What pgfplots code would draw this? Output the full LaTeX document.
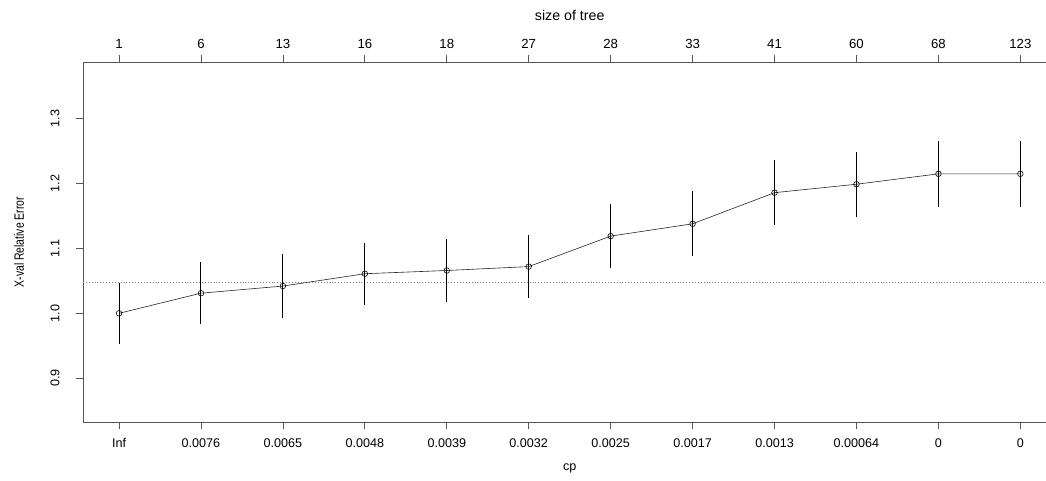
\documentclass[border=0pt]{standalone}
\usepackage{fontspec}
\setmainfont{Liberation Sans}
\usepackage{graphicx}
\usepackage{pgfplots}
\usepackage{pgfplotstable}
\pgfplotsset{compat=1.18}
\pgfplotstableread{
x y err
0 1.000 0.047
1 1.031 0.048
2 1.042 0.049
3 1.061 0.048
4 1.066 0.048
5 1.072 0.048
6 1.119 0.049
7 1.138 0.050
8 1.186 0.050
9 1.199 0.050
10 1.215 0.051
11 1.215 0.051
}\cvdata
\definecolor{axgray}{RGB}{85,85,85}
\begin{document}
\begin{tikzpicture}
\begin{axis}[
  at={(0pt,0pt)}, anchor=south west,
  scale only axis, width=973.4pt, height=359.7pt,
  xmin=-0.44, xmax=11.44, ymin=0.8324, ymax=1.387,
  axis line style={axgray, line width=0.8pt},
  xtick={0,1,2,3,4,5,6,7,8,9,10,11},
  xticklabels={Inf,0.0076,0.0065,0.0048,0.0039,0.0032,0.0025,0.0017,0.0013,0.00064,0,0},
  ytick={0.9,1.0,1.1,1.2,1.3},
  yticklabels={0.9,1.0,1.1,1.2,1.3},
  xtick pos=bottom, ytick pos=left,
  tick align=outside, major tick length=7pt,
  tick style={axgray, line width=0.8pt},
  /pgf/number format/assume math mode=true,
  font=\fontsize{12}{14}\selectfont,
  xticklabel style={anchor=center, yshift=-14pt, font=\fontsize{12.6}{14}\selectfont},
  yticklabel style={xshift=-21pt, rotate=90, anchor=center, font=\fontsize{12.6}{14}\selectfont},
  xlabel={cp},
  xlabel style={at={(axis description cs:0.5,-0.128)}, anchor=center, font=\fontsize{12.6}{14}\selectfont},
  ylabel={\scalebox{1}[1.3]{X-val Relative Error}},
  ylabel style={at={(axis description cs:-0.0657,0.5)}, anchor=center, font=\fontsize{10.4}{12}\selectfont},
  clip=false,
]
\addplot[gray, dotted, line width=0.9pt] coordinates {(-0.44,1.047) (11.44,1.047)};
\addplot[black!85, line width=0.6pt, mark=o, mark size=2.8pt, mark options={black, line width=0.6pt},
  error bars/.cd, y dir=both, y explicit, error mark=none,
  error bar style={black, line width=1pt}]
  table[x=x, y=y, y error=err]{\cvdata};
\end{axis}
\begin{axis}[
  at={(0pt,0pt)}, anchor=south west,
  scale only axis, width=973.4pt, height=359.7pt,
  xmin=-0.44, xmax=11.44, ymin=0.8324, ymax=1.387,
  axis x line*=top, axis y line=none,
  axis line style={axgray, line width=0.8pt},
  xtick={0,1,2,3,4,5,6,7,8,9,10,11},
  xticklabels={1,6,13,16,18,27,28,33,41,60,68,123},
  tick align=outside, major tick length=7pt,
  tick style={axgray, line width=0.8pt},
  font=\fontsize{12}{14}\selectfont,
  xticklabel style={anchor=center, yshift=11pt, font=\fontsize{13.2}{15}\selectfont},
  xlabel={size of tree},
  xlabel style={at={(axis description cs:0.5,1.1315)}, anchor=center, font=\fontsize{14.2}{16}\selectfont},
]
\end{axis}
\pgfresetboundingbox
\path[use as bounding box] (-83pt,-59pt) rectangle (963pt,422pt);
\end{tikzpicture}
\end{document}
